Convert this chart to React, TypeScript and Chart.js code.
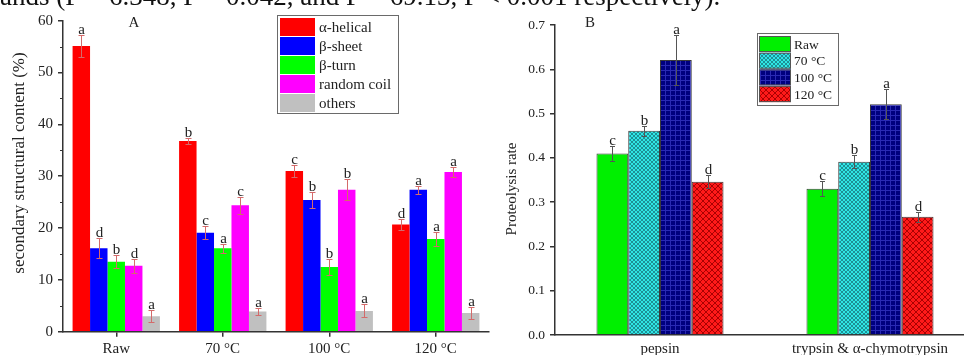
import React, { useEffect, useRef } from 'react';
import { Chart, registerables } from 'chart.js';
Chart.register(...registerables);

const FONT = "'Liberation Serif', 'Times New Roman', serif";

// ---------- Panel A data ----------
const catsA = ['Raw', '70 °C', '100 °C', '120 °C'];
const seriesA = ['α-helical', 'β-sheet', 'β-turn', 'random coil', 'others'];
const alphaHelical = [55.1, 36.8, 31.0, 20.7];
const betaSheet = [16.1, 19.1, 25.4, 27.4];
const betaTurn = [13.5, 16.1, 12.5, 17.9];
const randomCoil = [12.7, 24.4, 27.4, 30.8];
const othersA = [3.0, 3.9, 4.0, 3.6];
const errAlpha = [2.1, 0.5, 1.2, 1.0];
const errSheet = [1.9, 1.2, 1.5, 0.8];
const errTurn = [1.3, 0.9, 1.6, 1.4];
const errCoil = [1.4, 1.6, 2.0, 0.9];
const errOthers = [1.1, 0.65, 1.25, 1.1];
const letAlpha = ['a', 'b', 'c', 'd'];
const letSheet = ['d', 'c', 'b', 'a'];
const letTurn = ['b', 'a', 'b', 'a'];
const letCoil = ['d', 'c', 'b', 'a'];
const letOthers = ['a', 'a', 'a', 'a'];
const colorsA = ['#ff0000', '#0000ff', '#00ff00', '#ff00ff', '#c0c0c0'];
const yTicksA = { min: 0, max: 60, step: 10, minor: 5 };

// ---------- Panel B data ----------
const catsB = ['pepsin', 'trypsin & α-chymotrypsin'];
const seriesB = ['Raw', '70 °C', '100 °C', '120 °C'];
const rawB = [0.410, 0.330];
const t70B = [0.461, 0.391];
const t100B = [0.621, 0.521];
const t120B = [0.346, 0.267];
const errRawB = [0.016, 0.017];
const err70B = [0.011, 0.015];
const err100B = [0.056, 0.034];
const err120B = [0.015, 0.011];
const letRawB = ['c', 'c'];
const let70B = ['b', 'b'];
const let100B = ['a', 'a'];
const let120B = ['d', 'd'];
const yTicksB = { min: 0, max: 0.7, step: 0.1 };

const topText = 'ands (F = 6.348, P = 0.042, and F = 69.13, P < 0.001 respectively).';

function makePattern(ctx: CanvasRenderingContext2D, kind: string) {
  const c = document.createElement('canvas');
  const g = c.getContext('2d')!;
  if (kind === 'cyan') {
    c.width = 4; c.height = 4;
    g.fillStyle = '#2fe6e6'; g.fillRect(0, 0, 4, 4);
    g.strokeStyle = '#1a7a80'; g.lineWidth = 0.8;
    g.beginPath();
    g.moveTo(0, 0); g.lineTo(4, 4);
    g.moveTo(4, 0); g.lineTo(0, 4);
    g.stroke();
  } else if (kind === 'navy') {
    c.width = 5; c.height = 5;
    g.fillStyle = '#00007e'; g.fillRect(0, 0, 5, 5);
    g.fillStyle = '#2a2ab4';
    g.fillRect(0, 0, 5, 1);
    g.fillRect(0, 0, 1, 5);
  } else {
    c.width = 6; c.height = 6;
    g.fillStyle = '#ff1a1a'; g.fillRect(0, 0, 6, 6);
    g.strokeStyle = '#a00000'; g.lineWidth = 0.9;
    g.beginPath();
    g.moveTo(0, 0); g.lineTo(6, 6);
    g.moveTo(6, 0); g.lineTo(0, 6);
    g.stroke();
  }
  return ctx.createPattern(c, 'repeat')!;
}

const errPlugin = {
  id: 'errbars',
  afterDatasetsDraw(chart: any, _a: any, opts: any) {
    const { ctx } = chart;
    const ys = chart.scales.y;
    opts.errors.forEach((errs: number[], i: number) => {
      const meta = chart.getDatasetMeta(i);
      const data = chart.data.datasets[i].data;
      meta.data.forEach((el: any, j: number) => {
        const v = data[j];
        const e = errs[j];
        const yt = Math.round(ys.getPixelForValue(v + e)) + 0.5;
        const yb = Math.round(ys.getPixelForValue(v - e)) + 0.5;
        const x = Math.round(el.x) + 0.5;
        ctx.save();
        ctx.strokeStyle = opts.color;
        ctx.lineWidth = 1;
        ctx.beginPath();
        ctx.moveTo(x, yt); ctx.lineTo(x, yb);
        ctx.moveTo(x - opts.cap, yt); ctx.lineTo(x + opts.cap, yt);
        ctx.moveTo(x - opts.cap, yb); ctx.lineTo(x + opts.cap, yb);
        ctx.stroke();
        ctx.fillStyle = '#222';
        ctx.font = `15px ${FONT}`;
        ctx.textAlign = 'center';
        ctx.textBaseline = 'alphabetic';
        ctx.fillText(opts.letters[i][j], x, yt - 2);
        ctx.restore();
      });
    });
  },
};

const decoPlugin = {
  id: 'deco',
  afterDraw(chart: any, _a: any, o: any) {
    const { ctx } = chart;
    ctx.save();
    ctx.fillStyle = '#222';
    ctx.font = `15px ${FONT}`;
    ctx.textAlign = 'center';
    ctx.textBaseline = 'middle';
    ctx.fillText(o.panel.text, o.panel.x, o.panel.y);
    ctx.save();
    ctx.translate(o.ytitle.x, o.ytitle.y);
    ctx.rotate(-Math.PI / 2);
    ctx.font = `${o.ytitle.size}px ${FONT}`;
    ctx.fillText(o.ytitle.text, 0, 0);
    ctx.restore();
    if (o.minor) {
      const ys = chart.scales.y;
      const x0 = chart.chartArea.left;
      ctx.strokeStyle = '#333';
      ctx.lineWidth = 1;
      ctx.beginPath();
      for (let v = o.minor.start; v < o.minor.max; v += o.minor.step) {
        const y = Math.round(ys.getPixelForValue(v)) + 0.5;
        ctx.moveTo(x0 - 3, y); ctx.lineTo(x0, y);
      }
      ctx.stroke();
    }
    const L = o.legend;
    ctx.fillStyle = '#fff';
    ctx.fillRect(L.x, L.y, L.w, L.h);
    ctx.strokeStyle = '#6a6a6a';
    ctx.lineWidth = 1;
    ctx.strokeRect(L.x + 0.5, L.y + 0.5, L.w, L.h);
    ctx.font = `${L.size}px ${FONT}`;
    ctx.textAlign = 'left';
    ctx.textBaseline = 'middle';
    L.items.forEach((it: any, k: number) => {
      const sy = L.sy + k * L.pitch;
      ctx.fillStyle = it.fill;
      ctx.fillRect(L.sx, sy, L.sw, L.sh);
      if (L.sborder) {
        ctx.strokeStyle = L.sborder;
        ctx.strokeRect(L.sx + 0.5, sy + 0.5, L.sw - 1, L.sh - 1);
      }
      ctx.fillStyle = '#222';
      ctx.fillText(it.label, L.tx, sy + L.sh / 2 + 1);
    });
    ctx.restore();
  },
};

function ChartA() {
  const ref = useRef<HTMLCanvasElement>(null);
  useEffect(() => {
    const values = [alphaHelical, betaSheet, betaTurn, randomCoil, othersA];
    const chart = new Chart(ref.current!, {
      type: 'bar',
      data: {
        labels: catsA,
        datasets: seriesA.map((s, i) => ({
          label: s,
          data: values[i],
          backgroundColor: colorsA[i],
          borderWidth: 0,
          barPercentage: 1,
          categoryPercentage: 0.82,
        })),
      },
      options: {
        animation: false,
        responsive: false,
        devicePixelRatio: 1,
        events: [],
        layout: { padding: { left: 0, right: 6, top: 20.7, bottom: 0 } },
        scales: {
          x: {
            offset: true,
            grid: { display: true, offset: false, drawOnChartArea: false, drawTicks: true, tickLength: 5, tickColor: '#333', lineWidth: 1.5 },
            border: { color: '#333', width: 1.5 },
            ticks: { font: { family: FONT, size: 15 }, color: '#222', padding: 3, maxRotation: 0 },
            afterFit: (s: any) => { s.height = 23.3; },
          },
          y: {
            min: yTicksA.min,
            max: yTicksA.max,
            ticks: { stepSize: yTicksA.step, font: { family: FONT, size: 15 }, color: '#222', padding: 5 },
            grid: { drawOnChartArea: false, drawTicks: true, tickLength: 5, tickColor: '#333', lineWidth: 1.5 },
            border: { color: '#333', width: 1.5 },
            afterFit: (s: any) => { s.width = 63; },
          },
        },
        plugins: {
          legend: { display: false },
          tooltip: { enabled: false },
          errbars: {
            errors: [errAlpha, errSheet, errTurn, errCoil, errOthers],
            letters: [letAlpha, letSheet, letTurn, letCoil, letOthers],
            color: '#d46a6a',
            cap: 3,
          },
          deco: {
            panel: { text: 'A', x: 134, y: 23 },
            ytitle: { text: 'secondary structural content (%)', x: 20, y: 163, size: 17 },
            minor: { start: yTicksA.minor, max: yTicksA.max, step: yTicksA.step },
            legend: {
              x: 277, y: 15, w: 121, h: 98, size: 15,
              sx: 280, sy: 18, sw: 35, sh: 18, pitch: 19, tx: 319,
              items: seriesA.map((s, i) => ({ label: s, fill: colorsA[i] })),
            },
          },
        } as any,
      },
      plugins: [errPlugin, decoPlugin],
    } as any);
    return () => chart.destroy();
  }, []);
  return <canvas ref={ref} width={495} height={355} style={{ position: 'absolute', left: 0, top: 0, width: 495, height: 355 }} />;
}

function ChartB() {
  const ref = useRef<HTMLCanvasElement>(null);
  useEffect(() => {
    const ctx = ref.current!.getContext('2d')!;
    const fills: any[] = ['#00f000', makePattern(ctx, 'cyan'), makePattern(ctx, 'navy'), makePattern(ctx, 'red')];
    const values = [rawB, t70B, t100B, t120B];
    const chart = new Chart(ref.current!, {
      type: 'bar',
      data: {
        labels: catsB,
        datasets: seriesB.map((s, i) => ({
          label: s,
          data: values[i],
          backgroundColor: fills[i],
          borderColor: '#3a3a3a',
          borderWidth: 1,
          barPercentage: 1,
          categoryPercentage: 0.605,
        })),
      },
      options: {
        animation: false,
        responsive: false,
        devicePixelRatio: 1,
        events: [],
        layout: { padding: { left: 0, right: 5, top: 25, bottom: 0 } },
        scales: {
          x: {
            offset: true,
            grid: { display: true, offset: false, drawOnChartArea: false, drawTicks: false },
            border: { color: '#333', width: 1.5 },
            ticks: { font: { family: FONT, size: 15 }, color: '#222', padding: 5, maxRotation: 0 },
            afterFit: (s: any) => { s.height = 20; },
          },
          y: {
            min: yTicksB.min,
            max: yTicksB.max,
            ticks: {
              stepSize: yTicksB.step,
              font: { family: FONT, size: 13.5 },
              color: '#222',
              padding: 5,
              callback: (v: any) => Number(v).toFixed(1),
            },
            grid: { drawOnChartArea: false, drawTicks: true, tickLength: 5, tickColor: '#333', lineWidth: 1.5 },
            border: { color: '#333', width: 1.5 },
            afterFit: (s: any) => { s.width = 65; },
          },
        },
        plugins: {
          legend: { display: false },
          tooltip: { enabled: false },
          errbars: {
            errors: [errRawB, err70B, err100B, err120B],
            letters: [letRawB, let70B, let100B, let120B],
            color: '#555',
            cap: 2.5,
          },
          deco: {
            panel: { text: 'B', x: 100, y: 23 },
            ytitle: { text: 'Proteolysis rate', x: 22, y: 189, size: 15 },
            legend: {
              x: 267, y: 33, w: 81, h: 72, size: 13.5,
              sx: 269, sy: 36, sw: 32, sh: 16, pitch: 16.7, tx: 304,
              sborder: '#555',
              items: seriesB.map((s, i) => ({ label: s, fill: fills[i] })),
            },
          },
        } as any,
      },
      plugins: [errPlugin, decoPlugin],
    } as any);
    return () => chart.destroy();
  }, []);
  return <canvas ref={ref} width={490} height={355} style={{ position: 'absolute', left: 490, top: 0, width: 490, height: 355 }} />;
}

export default function App() {
  return (
    <div style={{ position: 'absolute', left: 0, top: 0, width: 964, height: 355, overflow: 'hidden', background: '#fff' }}>
      <ChartA />
      <ChartB />
      <div
        style={{
          position: 'absolute',
          top: -17,
          left: 0,
          fontFamily: FONT,
          fontSize: 27,
          lineHeight: '27px',
          whiteSpace: 'nowrap',
          color: '#111',
        }}
      >
        {topText}
      </div>
    </div>
  );
}
